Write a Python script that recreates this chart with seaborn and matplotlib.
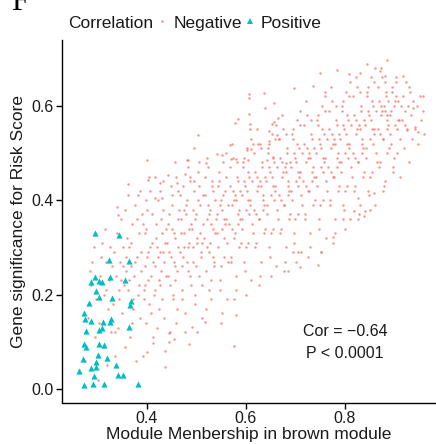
import matplotlib
matplotlib.use('Agg')
import matplotlib.pyplot as plt
import seaborn as sns
import pandas as pd
from matplotlib.lines import Line2D

# ---------------- data ----------------
neg_x = [
    # x 0.27-0.30
    0.275, 0.281, 0.286, 0.289, 0.292, 0.295, 0.298, 0.284,
    # x 0.30-0.33
    0.301, 0.304, 0.306, 0.309, 0.311, 0.313, 0.316, 0.318, 0.320, 0.322, 0.324, 0.326, 0.328, 0.317, 0.307, 0.329,
    # x 0.33-0.36
    0.331, 0.333, 0.335, 0.337, 0.339, 0.341, 0.343, 0.345, 0.347, 0.349, 0.351, 0.353, 0.355, 0.357, 0.359, 0.336, 0.344, 0.352, 0.348, 0.358,
    # x 0.36-0.39
    0.361, 0.363, 0.365, 0.367, 0.369, 0.371, 0.373, 0.375, 0.377, 0.379, 0.381, 0.383, 0.385, 0.387, 0.389, 0.364, 0.368, 0.372, 0.376, 0.380, 0.384, 0.388, 0.370, 0.382,
    # x 0.39-0.415
    0.391, 0.393, 0.395, 0.397, 0.399, 0.401, 0.403, 0.405, 0.407, 0.409, 0.411, 0.413, 0.392, 0.396, 0.400, 0.404, 0.408, 0.412, 0.394, 0.398, 0.402, 0.406, 0.410, 0.414,
    # x 0.415-0.44
    0.416, 0.418, 0.420, 0.422, 0.424, 0.426, 0.428, 0.430, 0.432, 0.434, 0.436, 0.438, 0.417, 0.421, 0.425, 0.429, 0.433, 0.437, 0.419, 0.423, 0.427, 0.431, 0.435, 0.439, 0.426, 0.433,
    # x 0.44-0.465
    0.441, 0.443, 0.445, 0.447, 0.449, 0.451, 0.453, 0.455, 0.457, 0.459, 0.461, 0.463, 0.442, 0.446, 0.450, 0.454, 0.458, 0.462, 0.444, 0.448, 0.452, 0.456, 0.460, 0.464, 0.450, 0.457, 0.445, 0.462,
    # x 0.465-0.49
    0.466, 0.468, 0.470, 0.472, 0.474, 0.476, 0.478, 0.480, 0.482, 0.484, 0.486, 0.488, 0.467, 0.471, 0.475, 0.479, 0.483, 0.487, 0.469, 0.473, 0.477, 0.481, 0.485, 0.489, 0.474, 0.482, 0.470, 0.486,
    # x 0.49-0.515
    0.491, 0.493, 0.495, 0.497, 0.499, 0.501, 0.503, 0.505, 0.507, 0.509, 0.511, 0.513, 0.492, 0.496, 0.500, 0.504, 0.508, 0.512, 0.494, 0.498, 0.502, 0.506, 0.510, 0.514, 0.497, 0.505, 0.501, 0.511,
    # x 0.515-0.54
    0.516, 0.518, 0.520, 0.522, 0.524, 0.526, 0.528, 0.530, 0.532, 0.534, 0.536, 0.538, 0.517, 0.521, 0.525, 0.529, 0.533, 0.537, 0.519, 0.523, 0.527, 0.531, 0.535, 0.539, 0.522, 0.530, 0.526, 0.534,
    # x 0.54-0.565
    0.541, 0.543, 0.545, 0.547, 0.549, 0.551, 0.553, 0.555, 0.557, 0.559, 0.561, 0.563, 0.542, 0.546, 0.550, 0.554, 0.558, 0.562, 0.544, 0.548, 0.552, 0.556, 0.560, 0.564, 0.547, 0.555, 0.551, 0.559,
    # x 0.565-0.59
    0.566, 0.568, 0.570, 0.572, 0.574, 0.576, 0.578, 0.580, 0.582, 0.584, 0.586, 0.588, 0.567, 0.571, 0.575, 0.579, 0.583, 0.587, 0.569, 0.573, 0.577, 0.581, 0.585, 0.589, 0.572, 0.580, 0.576, 0.584,
    # x 0.59-0.615
    0.591, 0.593, 0.595, 0.597, 0.599, 0.601, 0.603, 0.605, 0.607, 0.609, 0.611, 0.613, 0.592, 0.596, 0.600, 0.604, 0.608, 0.612, 0.594, 0.598, 0.602, 0.606, 0.610, 0.614, 0.597, 0.605, 0.601, 0.609,
    # x 0.615-0.64
    0.616, 0.618, 0.620, 0.622, 0.624, 0.626, 0.628, 0.630, 0.632, 0.634, 0.636, 0.638, 0.617, 0.621, 0.625, 0.629, 0.633, 0.637, 0.619, 0.623, 0.627, 0.631, 0.635, 0.639, 0.622, 0.630, 0.626, 0.634,
    # x 0.64-0.665
    0.641, 0.643, 0.645, 0.647, 0.649, 0.651, 0.653, 0.655, 0.657, 0.659, 0.661, 0.663, 0.642, 0.646, 0.650, 0.654, 0.658, 0.662, 0.644, 0.648, 0.652, 0.656, 0.660, 0.664, 0.647, 0.655, 0.651, 0.659,
    # x 0.665-0.69
    0.666, 0.668, 0.670, 0.672, 0.674, 0.676, 0.678, 0.680, 0.682, 0.684, 0.686, 0.688, 0.667, 0.671, 0.675, 0.679, 0.683, 0.687, 0.669, 0.673, 0.677, 0.681, 0.685, 0.689, 0.672, 0.680, 0.676, 0.684,
    # x 0.69-0.715
    0.691, 0.693, 0.695, 0.697, 0.699, 0.701, 0.703, 0.705, 0.707, 0.709, 0.711, 0.713, 0.692, 0.696, 0.700, 0.704, 0.708, 0.712, 0.694, 0.698, 0.702, 0.706, 0.710, 0.714, 0.697, 0.705, 0.701, 0.709,
    # x 0.715-0.74
    0.716, 0.718, 0.720, 0.722, 0.724, 0.726, 0.728, 0.730, 0.732, 0.734, 0.736, 0.738, 0.717, 0.721, 0.725, 0.729, 0.733, 0.737, 0.719, 0.723, 0.727, 0.731, 0.735, 0.739, 0.722, 0.730, 0.726, 0.734,
    # x 0.74-0.765
    0.741, 0.743, 0.745, 0.747, 0.749, 0.751, 0.753, 0.755, 0.757, 0.759, 0.761, 0.763, 0.742, 0.746, 0.750, 0.754, 0.758, 0.762, 0.744, 0.748, 0.752, 0.756, 0.760, 0.764, 0.747, 0.755, 0.751, 0.759,
    # x 0.765-0.79
    0.766, 0.768, 0.770, 0.772, 0.774, 0.776, 0.778, 0.780, 0.782, 0.784, 0.786, 0.788, 0.767, 0.771, 0.775, 0.779, 0.783, 0.787, 0.769, 0.773, 0.777, 0.781, 0.785, 0.789, 0.772, 0.780, 0.776, 0.784,
    # x 0.79-0.815
    0.791, 0.793, 0.795, 0.797, 0.799, 0.801, 0.803, 0.805, 0.807, 0.809, 0.811, 0.813, 0.792, 0.796, 0.800, 0.804, 0.808, 0.812, 0.794, 0.798, 0.802, 0.806, 0.810, 0.814, 0.797, 0.805, 0.801, 0.809,
    # x 0.815-0.84
    0.816, 0.818, 0.820, 0.822, 0.824, 0.826, 0.828, 0.830, 0.832, 0.834, 0.836, 0.838, 0.817, 0.821, 0.825, 0.829, 0.833, 0.837, 0.819, 0.823, 0.827, 0.831, 0.835, 0.839, 0.822, 0.830, 0.826, 0.834,
    # x 0.84-0.865
    0.841, 0.843, 0.845, 0.847, 0.849, 0.851, 0.853, 0.855, 0.857, 0.859, 0.861, 0.863, 0.842, 0.846, 0.850, 0.854, 0.858, 0.862, 0.844, 0.848, 0.852, 0.856, 0.860, 0.864, 0.847, 0.855, 0.851, 0.859,
    # x 0.865-0.89
    0.866, 0.868, 0.870, 0.872, 0.874, 0.876, 0.878, 0.880, 0.882, 0.884, 0.886, 0.888, 0.867, 0.871, 0.875, 0.879, 0.883, 0.887, 0.869, 0.873, 0.877, 0.881, 0.885, 0.889, 0.872, 0.880, 0.876, 0.884,
    # x 0.89-0.915
    0.891, 0.893, 0.895, 0.897, 0.899, 0.901, 0.903, 0.905, 0.907, 0.909, 0.911, 0.913, 0.892, 0.896, 0.900, 0.904, 0.908, 0.912, 0.894, 0.898, 0.902, 0.906,
    # x 0.915-0.94
    0.916, 0.918, 0.920, 0.922, 0.924, 0.926, 0.928, 0.930, 0.932, 0.934, 0.936, 0.938, 0.921, 0.929,
    # x 0.94-0.965
    0.942, 0.945, 0.948, 0.951, 0.954, 0.957, 0.960,
    # upper-right edge points
    0.886, 0.844, 0.750, 0.783, 0.808, 0.830, 0.871, 0.881, 0.904, 0.917, 0.958, 0.947, 0.937, 0.925, 0.941,
    # lower edge points
    0.436, 0.485, 0.576, 0.400, 0.444, 0.455, 0.412, 0.550, 0.579, 0.517, 0.490, 0.684, 0.709, 0.745, 0.751, 0.695, 0.706, 0.775, 0.797, 0.838, 0.840, 0.858, 0.826, 0.818,
    # upper-left edge points
    0.362, 0.362, 0.339, 0.400, 0.386, 0.356, 0.341, 0.416, 0.402, 0.426, 0.457, 0.483, 0.495, 0.503, 0.442, 0.461, 0.416, 0.430, 0.398,
    # upper-middle edge points
    0.606, 0.636, 0.606, 0.657, 0.638, 0.606, 0.665, 0.584, 0.578, 0.608, 0.657, 0.652, 0.646, 0.663, 0.614, 0.628, 0.568, 0.610, 0.602, 0.646, 0.667, 0.697, 0.735, 0.760, 0.481, 0.477, 0.519, 0.541, 0.551, 0.570, 0.580, 0.604, 0.642, 0.655, 0.681,
]
neg_y = [
    0.06, 0.15, 0.22, 0.27, 0.30, 0.11, 0.19, 0.25,
    0.02, 0.14, 0.24, 0.31, 0.09, 0.20, 0.34, 0.27, 0.05, 0.17, 0.23, 0.30, 0.12, 0.21, 0.28, 0.26,
    0.18, 0.29, 0.07, 0.24, 0.33, 0.13, 0.21, 0.27, 0.36, 0.16, 0.30, 0.22, 0.09, 0.25, 0.32, 0.12, 0.19, 0.26, 0.23, 0.28,
    0.21, 0.30, 0.11, 0.26, 0.35, 0.17, 0.24, 0.39, 0.06, 0.28, 0.20, 0.33, 0.15, 0.25, 0.37, 0.23, 0.31, 0.19, 0.27, 0.36, 0.22, 0.29, 0.14, 0.41,
    0.07, 0.21, 0.33, 0.26, 0.14, 0.38, 0.29, 0.18, 0.42, 0.24, 0.31, 0.11, 0.35, 0.22, 0.28, 0.45, 0.16, 0.27, 0.19, 0.34, 0.23, 0.30, 0.37, 0.20,
    0.26, 0.32, 0.13, 0.40, 0.23, 0.29, 0.36, 0.19, 0.44, 0.27, 0.08, 0.34, 0.21, 0.30, 0.17, 0.25, 0.38, 0.31, 0.35, 0.28, 0.22, 0.33, 0.15, 0.24, 0.42, 0.29,
    0.31, 0.24, 0.37, 0.12, 0.28, 0.41, 0.20, 0.33, 0.26, 0.45, 0.17, 0.30, 0.35, 0.22, 0.39, 0.27, 0.14, 0.36, 0.29, 0.43, 0.19, 0.32, 0.25, 0.38, 0.34, 0.23, 0.10, 0.42,
    0.29, 0.36, 0.21, 0.43, 0.33, 0.16, 0.39, 0.27, 0.47, 0.31, 0.24, 0.35, 0.41, 0.19, 0.30, 0.37, 0.25, 0.44, 0.33, 0.28, 0.12, 0.40, 0.34, 0.22, 0.38, 0.30, 0.26, 0.45,
    0.34, 0.27, 0.42, 0.20, 0.37, 0.31, 0.46, 0.24, 0.39, 0.29, 0.15, 0.35, 0.30, 0.44, 0.26, 0.40, 0.33, 0.22, 0.38, 0.18, 0.32, 0.48, 0.28, 0.41, 0.36, 0.43, 0.12, 0.31,
    0.32, 0.41, 0.25, 0.36, 0.47, 0.29, 0.38, 0.19, 0.43, 0.34, 0.27, 0.40, 0.45, 0.30, 0.37, 0.23, 0.42, 0.33, 0.17, 0.39, 0.31, 0.44, 0.26, 0.36, 0.49, 0.35, 0.21, 0.28,
    0.37, 0.30, 0.44, 0.23, 0.40, 0.34, 0.48, 0.28, 0.42, 0.36, 0.19, 0.39, 0.33, 0.46, 0.26, 0.41, 0.35, 0.31, 0.43, 0.21, 0.38, 0.32, 0.45, 0.27, 0.39, 0.36, 0.16, 0.50,
    0.35, 0.43, 0.28, 0.39, 0.49, 0.32, 0.41, 0.24, 0.45, 0.37, 0.30, 0.42, 0.47, 0.34, 0.40, 0.21, 0.44, 0.36, 0.27, 0.42, 0.33, 0.48, 0.38, 0.31, 0.52, 0.40, 0.19, 0.35,
    0.41, 0.34, 0.47, 0.27, 0.43, 0.38, 0.51, 0.31, 0.45, 0.40, 0.23, 0.44, 0.36, 0.49, 0.30, 0.46, 0.39, 0.35, 0.48, 0.25, 0.42, 0.37, 0.53, 0.33, 0.44, 0.40, 0.20, 0.55,
    0.38, 0.46, 0.31, 0.42, 0.52, 0.36, 0.44, 0.27, 0.48, 0.40, 0.33, 0.45, 0.50, 0.37, 0.43, 0.24, 0.47, 0.39, 0.30, 0.45, 0.36, 0.51, 0.41, 0.34, 0.55, 0.43, 0.22, 0.38,
    0.44, 0.37, 0.50, 0.30, 0.46, 0.41, 0.54, 0.34, 0.48, 0.43, 0.26, 0.47, 0.39, 0.52, 0.33, 0.49, 0.42, 0.38, 0.51, 0.28, 0.45, 0.40, 0.56, 0.36, 0.47, 0.43, 0.24, 0.53,
    0.41, 0.49, 0.34, 0.45, 0.55, 0.39, 0.47, 0.30, 0.51, 0.43, 0.36, 0.48, 0.53, 0.40, 0.46, 0.27, 0.50, 0.42, 0.33, 0.48, 0.39, 0.54, 0.44, 0.37, 0.58, 0.46, 0.25, 0.41,
    0.47, 0.40, 0.53, 0.33, 0.49, 0.44, 0.57, 0.37, 0.51, 0.46, 0.29, 0.50, 0.42, 0.55, 0.36, 0.52, 0.45, 0.41, 0.54, 0.31, 0.48, 0.43, 0.59, 0.39, 0.50, 0.46, 0.27, 0.56,
    0.44, 0.52, 0.37, 0.48, 0.58, 0.42, 0.50, 0.33, 0.54, 0.46, 0.39, 0.51, 0.56, 0.43, 0.49, 0.30, 0.53, 0.45, 0.36, 0.51, 0.42, 0.57, 0.47, 0.40, 0.61, 0.49, 0.28, 0.44,
    0.50, 0.43, 0.56, 0.36, 0.52, 0.47, 0.60, 0.40, 0.54, 0.49, 0.32, 0.53, 0.45, 0.58, 0.39, 0.55, 0.48, 0.44, 0.57, 0.34, 0.51, 0.46, 0.62, 0.42, 0.53, 0.49, 0.29, 0.59,
    0.47, 0.55, 0.40, 0.51, 0.61, 0.45, 0.53, 0.36, 0.57, 0.49, 0.42, 0.54, 0.59, 0.46, 0.52, 0.33, 0.56, 0.48, 0.39, 0.54, 0.45, 0.60, 0.50, 0.43, 0.64, 0.52, 0.31, 0.47,
    0.53, 0.46, 0.59, 0.39, 0.55, 0.50, 0.63, 0.43, 0.57, 0.52, 0.36, 0.56, 0.48, 0.61, 0.42, 0.58, 0.51, 0.47, 0.60, 0.38, 0.54, 0.49, 0.65, 0.45, 0.56, 0.52, 0.34, 0.62,
    0.50, 0.58, 0.43, 0.54, 0.64, 0.48, 0.56, 0.39, 0.60, 0.52, 0.45, 0.57, 0.62, 0.49, 0.55, 0.37, 0.59, 0.51, 0.42, 0.57, 0.48, 0.63, 0.53, 0.46, 0.66, 0.55, 0.36, 0.50,
    0.56, 0.49, 0.62, 0.42, 0.58, 0.53, 0.66, 0.46, 0.60, 0.55, 0.39, 0.59, 0.51, 0.64, 0.45, 0.61, 0.54, 0.50, 0.63, 0.41, 0.57, 0.52, 0.68, 0.48, 0.59, 0.55, 0.38, 0.65,
    0.55, 0.61, 0.48, 0.58, 0.66, 0.53, 0.60, 0.44, 0.63, 0.57, 0.50, 0.61, 0.64, 0.54, 0.59, 0.43, 0.62, 0.56, 0.47, 0.60, 0.53, 0.65, 0.58, 0.51, 0.68, 0.59, 0.42, 0.55,
    0.58, 0.52, 0.63, 0.47, 0.60, 0.56, 0.65, 0.50, 0.61, 0.57, 0.45, 0.60, 0.54, 0.64, 0.49, 0.62, 0.57, 0.53, 0.59, 0.46, 0.61, 0.55,
    0.57, 0.62, 0.51, 0.59, 0.65, 0.55, 0.60, 0.48, 0.63, 0.58, 0.53, 0.61, 0.56, 0.64,
    0.55, 0.60, 0.52, 0.62, 0.57, 0.59, 0.54,
    0.697, 0.689, 0.670, 0.675, 0.667, 0.669, 0.674, 0.663, 0.662, 0.663, 0.620, 0.545, 0.595, 0.549, 0.556,
    0.047, 0.095, 0.092, 0.079, 0.118, 0.106, 0.097, 0.140, 0.157, 0.143, 0.132, 0.249, 0.258, 0.263, 0.290, 0.290, 0.290, 0.323, 0.360, 0.367, 0.377, 0.416, 0.405, 0.378,
    0.434, 0.410, 0.386, 0.485, 0.420, 0.380, 0.368, 0.449, 0.443, 0.436, 0.481, 0.485, 0.510, 0.538, 0.453, 0.436, 0.405, 0.405, 0.400,
    0.625, 0.627, 0.617, 0.606, 0.595, 0.583, 0.574, 0.572, 0.564, 0.561, 0.566, 0.561, 0.547, 0.538, 0.519, 0.519, 0.517, 0.508, 0.506, 0.525, 0.530, 0.638, 0.642, 0.629, 0.485, 0.455, 0.479, 0.498, 0.496, 0.487, 0.487, 0.485, 0.485, 0.492, 0.479,
]
pos_x = [0.295, 0.343, 0.323, 0.364, 0.294, 0.286, 0.304, 0.310, 0.325, 0.356,
         0.296, 0.304, 0.329, 0.368, 0.366, 0.283, 0.273, 0.274, 0.286, 0.312,
         0.328, 0.326, 0.310, 0.303, 0.364, 0.276, 0.273, 0.277, 0.304, 0.314,
         0.302, 0.271, 0.297, 0.319, 0.287, 0.296, 0.337, 0.263, 0.292, 0.341,
         0.352, 0.273, 0.291, 0.314, 0.382]
pos_y = [0.331, 0.327, 0.273, 0.272, 0.237, 0.226, 0.229, 0.227, 0.237, 0.231,
         0.208, 0.194, 0.192, 0.187, 0.178, 0.182, 0.162, 0.149, 0.145, 0.142,
         0.149, 0.143, 0.129, 0.124, 0.132, 0.123, 0.095, 0.088, 0.095, 0.093,
         0.073, 0.063, 0.058, 0.066, 0.044, 0.047, 0.051, 0.039, 0.028, 0.029,
         0.029, 0.008, 0.011, 0.010, 0.010]

x_ticks = [0.4, 0.6, 0.8]
y_ticks = [0.0, 0.2, 0.4, 0.6]
x_label = "Module Menbership in brown module"
y_label = "Gene significance for Risk Score"
legend_title = "Correlation"
group_labels = ["Negative", "Positive"]
cor_text = "Cor = \u22120.64"
p_text = "P < 0.0001"
panel_letter = "F"

neg_color = "#F8766D"
pos_color = "#00BFC4"

# ---------------- plotting ----------------
sns.set_theme(style="white")
plt.rcParams['font.family'] = ['Liberation Sans', 'DejaVu Sans']

df = pd.DataFrame({
    "x": neg_x + pos_x,
    "y": neg_y + pos_y,
    "Correlation": [group_labels[0]] * len(neg_x) + [group_labels[1]] * len(pos_x),
})

W, H = 436, 444
fig = plt.figure(figsize=(W / 100, H / 100), dpi=100)
ax_l, ax_r, ax_t, ax_b = 62, 436, 40, 402.5
ax = fig.add_axes([ax_l / W, (H - ax_b) / H, (ax_r - ax_l) / W, (ax_b - ax_t) / H])

sns.scatterplot(data=df[df["Correlation"] == group_labels[0]], x="x", y="y",
                color=neg_color, s=3, linewidth=0, alpha=0.8, ax=ax, legend=False)
sns.scatterplot(data=df[df["Correlation"] == group_labels[1]], x="x", y="y",
                color=pos_color, marker="^", s=20, linewidth=0, ax=ax, legend=False)

ax.set_xlim(0.2283, 0.984)
ax.set_ylim(-0.0286, 0.7394)
ax.set_xticks(x_ticks)
ax.set_yticks(y_ticks)
ax.set_xticklabels([f"{v:.1f}" for v in x_ticks])
ax.set_yticklabels([f"{v:.1f}" for v in y_ticks])
sns.despine(ax=ax)
for sp in ["left", "bottom"]:
    ax.spines[sp].set_color("black")
    ax.spines[sp].set_linewidth(1.0)
ax.tick_params(axis="both", which="major", direction="out", length=4, width=1,
               color="black", labelsize=11.5, labelcolor="#1a1a1a", pad=2,
               bottom=True, left=True)
ax.set_xlabel(x_label, fontsize=12.5, color="#1a1a1a", labelpad=1)
ax.set_ylabel(y_label, fontsize=12.5, color="#1a1a1a", labelpad=4)

ax.text(0.80, 0.121, cor_text, ha="center", va="center", fontsize=11.5, color="#1a1a1a")
ax.text(0.80, 0.076, p_text, ha="center", va="center", fontsize=11.5, color="#1a1a1a")

# legend at top
fig.text(68 / W, 1 - 23 / H, legend_title, ha="left", va="center", fontsize=12.5, color="#1a1a1a")
handles = [
    Line2D([], [], linestyle="none", marker="o", markersize=1.8, markerfacecolor=neg_color,
           markeredgewidth=0, alpha=0.8),
    Line2D([], [], linestyle="none", marker="^", markersize=4.5, markerfacecolor=pos_color,
           markeredgewidth=0),
]
fig.legend(handles, group_labels, loc="center left", bbox_to_anchor=(157 / W, 1 - 23 / H),
           bbox_transform=fig.transFigure, ncol=2, frameon=False, borderpad=0, borderaxespad=0,
           handlelength=0.6, handletextpad=0.35, columnspacing=0.15, fontsize=12.5,
           labelcolor="#1a1a1a")

# panel letter (cut at the top edge)
fig.text(11 / W, 1 - 10 / H, panel_letter, ha="left", va="baseline", fontsize=22,
         family=["Liberation Serif", "DejaVu Serif"], color="black")

fig.savefig("out.png", dpi=100, facecolor="white")
